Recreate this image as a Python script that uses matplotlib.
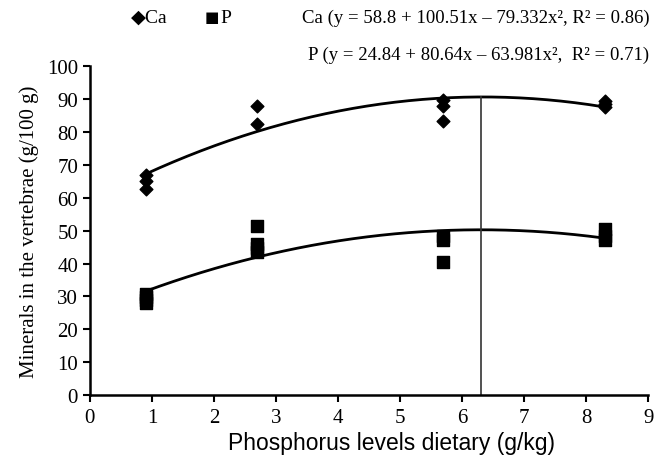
import numpy as np
import matplotlib.pyplot as plt

# ---- data ----
ca_x = [0.9, 0.9, 0.9, 2.7, 2.7, 5.7, 5.7, 5.7, 8.3, 8.3, 8.3]
ca_y = [66.8, 65.0, 62.8, 87.8, 82.5, 89.8, 88.0, 83.2, 89.5, 88.6, 87.6]

p_x = [0.9, 0.9, 0.9, 0.9, 2.7, 2.7, 2.7, 2.7, 5.7, 5.7, 5.7, 8.3, 8.3, 8.3]
p_y = [30.8, 29.8, 28.8, 28.0, 51.5, 46.0, 44.8, 43.5, 48.5, 47.2, 40.5, 50.5, 48.5, 47.0]

# fitted quadratic coefficients (x in %, so divide g/kg by 10)
ca_coef = [58.8, 100.51, -79.332]
p_coef = [24.84, 80.64, -63.981]
optimum_x = 6.3

ca_eq = "Ca (y = 58.8 + 100.51x \u2013 79.332x\u00b2, R\u00b2 = 0.86)"
p_eq = "P (y = 24.84 + 80.64x \u2013 63.981x\u00b2,  R\u00b2 = 0.71)"

plt.rcParams['font.family'] = ['Liberation Serif', 'DejaVu Serif']

fig = plt.figure(figsize=(6.56, 4.60), dpi=100)
ax = fig.add_axes([0.137, 0.139, 0.851, 0.715])

xs = np.linspace(0.9, 8.3, 200)
def quad(c, x):
    t = x / 10.0
    return c[0] + c[1] * t + c[2] * t ** 2

ax.plot(xs, quad(ca_coef, xs), color='black', lw=2)
ax.plot(xs, quad(p_coef, xs), color='black', lw=2)
ax.scatter(ca_x, ca_y, marker='D', s=42, color='black', zorder=3)
ax.scatter(p_x, p_y, marker='s', s=70, color='black', zorder=3)
ax.plot([optimum_x, optimum_x], [0, quad(ca_coef, optimum_x)], color='#333333', lw=1.2)

ax.set_xlim(0, 9)
ax.set_ylim(0, 100)
ax.set_xticks(range(0, 10))
ax.set_yticks(range(0, 101, 10))
ax.tick_params(direction='out', length=5, width=1.5, labelsize=15)
ax.tick_params(axis='x', pad=4)
for s in ['top', 'right']:
    ax.spines[s].set_visible(False)
for s in ['left', 'bottom']:
    ax.spines[s].set_linewidth(1.8)

ax.set_xlabel("Phosphorus levels dietary (g/kg)", fontsize=16.5,
              family=['Liberation Sans', 'DejaVu Sans'])
ax.xaxis.set_label_coords(0.54, -0.11)
ax.set_ylabel("Minerals in the vertebrae (g/100 g)", fontsize=15, labelpad=6)

# legend and equations at the top
fig.text(0.2, 0.96, "\u25c6Ca", fontsize=14, va='center',
         family=['Liberation Serif', 'DejaVu Sans'])
fig.text(0.312, 0.962, "\u25a0", fontsize=11, va='center', family=['DejaVu Sans'])
fig.text(0.336, 0.96, "P", fontsize=14, va='center')
fig.text(0.99, 0.96, ca_eq, fontsize=13.5, ha='right', va='center')
fig.text(0.99, 0.88, p_eq, fontsize=13.5, ha='right', va='center')

fig.savefig("out.png", dpi=100)
